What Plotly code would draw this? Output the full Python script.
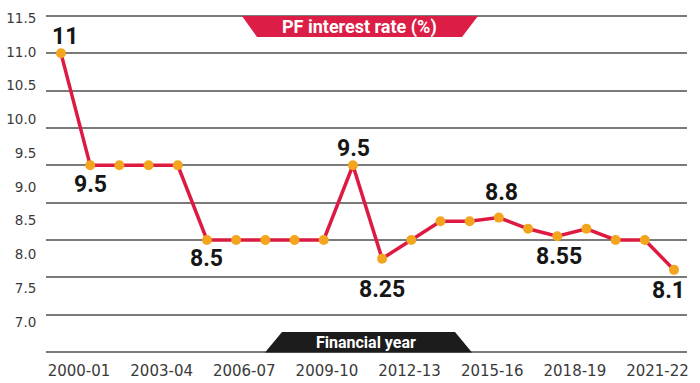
import plotly.graph_objects as go

# ---- data ----
years = ["2000-01", "2001-02", "2002-03", "2003-04", "2004-05", "2005-06",
         "2006-07", "2007-08", "2008-09", "2009-10", "2010-11", "2011-12",
         "2012-13", "2013-14", "2014-15", "2015-16", "2016-17", "2017-18",
         "2018-19", "2019-20", "2020-21", "2021-22"]
rates = [11.0, 9.5, 9.5, 9.5, 9.5, 8.5, 8.5, 8.5, 8.5, 8.5, 9.5, 8.25,
         8.5, 8.75, 8.75, 8.8, 8.65, 8.55, 8.65, 8.5, 8.5, 8.1]
y_tick_labels = ["7.0", "7.5", "8.0", "8.5", "9.0", "9.5", "10.0", "10.5", "11.0", "11.5"]
y_tick_vals = [float(t) for t in y_tick_labels]
x_label_step = 3
labelled_points = [0, 1, 5, 10, 11, 15, 17, 21]

# ---- style ----
W, H = 700, 383
ML, MR, MT, MB = 46, 13, 14, 29
PW, PH = W - ML - MR, H - MT - MB
LINE_RED = "#dd1a42"
DOT_ORANGE = "#f3a51f"
GRID = "#7a7a7a"

def px(xp):
    return (xp - ML) / PW

def py(yp):
    return (H - MB - yp) / PH

x_idx = list(range(len(years)))

fig = go.Figure()
fig.add_trace(go.Scatter(
    x=x_idx, y=rates, mode="lines+markers",
    line=dict(color=LINE_RED, width=3.5),
    marker=dict(color=DOT_ORANGE, size=10),
    hoverinfo="skip", showlegend=False,
))
# invisible helper traces so the label axes are drawn
x_tick_idx = x_idx[::x_label_step]
fig.add_trace(go.Scatter(x=x_tick_idx, y=[rates[i] for i in x_tick_idx], xaxis="x2", yaxis="y",
                         mode="markers", marker=dict(opacity=0), hoverinfo="skip", showlegend=False))
fig.add_trace(go.Scatter(x=[0] * len(y_tick_vals), y=y_tick_vals, xaxis="x", yaxis="y2",
                         mode="markers", marker=dict(opacity=0), hoverinfo="skip", showlegend=False))

# value labels
offsets = {0: (4, 17), 1: (0, -19), 5: (0, -18), 10: (1, 17), 11: (0, -31),
           15: (3, 25), 17: (2, -20), 21: (-6, -21)}
for i in labelled_points:
    dx, dy = offsets[i]
    fig.add_annotation(x=x_idx[i], y=rates[i], text=f"{rates[i]:g}", showarrow=False,
                       xshift=dx, yshift=dy, xanchor="center", yanchor="middle",
                       font=dict(family="Roboto", size=23, color="#161616", weight="bold"))

# banners
fig.add_shape(type="path", xref="paper", yref="paper", layer="above",
              path=f"M {px(242)} {py(16)} L {px(478)} {py(16)} L {px(462)} {py(37)} L {px(257)} {py(37)} Z",
              fillcolor="#dc1d45", line=dict(width=0))
fig.add_annotation(xref="paper", yref="paper", x=px(359), y=py(27), text="PF interest rate (%)",
                   showarrow=False, xanchor="center", yanchor="middle",
                   font=dict(family="Roboto", size=18, color="white", weight="bold"))
fig.add_shape(type="path", xref="paper", yref="paper", layer="above",
              path=f"M {px(282)} {py(332)} L {px(455)} {py(332)} L {px(472)} {py(352.5)} L {px(265)} {py(352.5)} Z",
              fillcolor="#1c1c1c", line=dict(width=0))
fig.add_annotation(xref="paper", yref="paper", x=px(366), y=py(342), text="Financial year",
                   showarrow=False, xanchor="center", yanchor="middle",
                   font=dict(family="Roboto", size=16, color="white", weight="bold"))

# axes
xu = 29.19  # px per year on the data axis
fig.update_layout(
    width=W, height=H,
    margin=dict(l=ML, r=MR, t=MT, b=MB, pad=0, autoexpand=False),
    paper_bgcolor="white", plot_bgcolor="white",
    xaxis=dict(range=[-(61 - ML) / xu, 21 + (ML + PW - 674) / xu], showgrid=False,
               zeroline=False, showticklabels=False, showline=False, automargin=False),
    yaxis=dict(range=[7.0 - 2 / 74.67, 11.5 + 2 / 74.67], tickvals=y_tick_vals,
               showgrid=True, gridcolor=GRID, gridwidth=1.6, zeroline=False,
               showticklabels=False, showline=False, automargin=False),
    xaxis2=dict(overlaying="x", side="bottom", range=[-(79 - ML) / 27.55, 21 + (ML + PW - 657.5) / 27.55],
                tickvals=x_tick_idx, ticktext=[years[i] for i in x_tick_idx],
                showgrid=False, zeroline=False, showline=False, automargin=False,
                ticks="outside", ticklen=3, tickcolor="rgba(0,0,0,0)",
                tickfont=dict(family="DejaVu Sans", size=15, color="#3a3a3a")),
    yaxis2=dict(overlaying="y", side="left", range=[7.0 - 32 / 67.56, 11.5 + 4 / 67.56],
                tickvals=y_tick_vals, ticktext=y_tick_labels,
                showgrid=False, zeroline=False, showline=False, automargin=False,
                ticks="outside", ticklen=6, tickcolor="rgba(0,0,0,0)",
                tickfont=dict(family="DejaVu Sans", size=13.5, color="#3a3a3a")),
)

fig.write_html("out.html", config={"displayModeBar": False},
               post_script="document.body.style.margin='0';document.body.style.padding='0';")
